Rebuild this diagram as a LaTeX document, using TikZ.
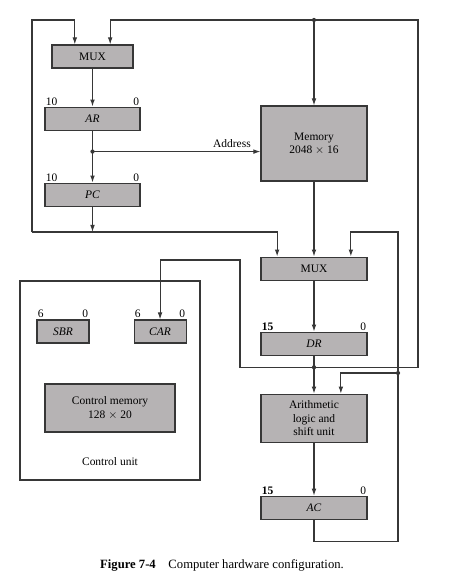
\documentclass[tikz,border=0pt]{standalone}
\usepackage{fontspec}
\setmainfont{Liberation Serif}
\usetikzlibrary{positioning, arrows.meta}
\definecolor{boxgray}{RGB}{182,179,180}
\definecolor{linegray}{RGB}{55,55,55}

\begin{document}
\begin{tikzpicture}[
    x=0.03cm, y=-0.03cm,
    node distance=1.14cm,
    box/.style={rectangle, draw=linegray, fill=boxgray, line width=0.9pt, minimum height=0.69cm, align=center, font=\fontsize{9.8}{11.5}\selectfont, inner sep=1pt},
    reg/.style={box, font=\fontsize{9.8}{11.5}\selectfont\itshape},
    bit/.style={font=\fontsize{9.8}{11.5}\selectfont, inner sep=1pt},
    arrow/.style={-{Latex[length=6pt,width=4pt]}, line width=0.9pt, draw=linegray},
    wire/.style={line width=0.9pt, draw=linegray}
]
\useasboundingbox (0,0) rectangle (457,585);

% Nodes
\node[box, minimum width=2.43cm] (muxa) at (92.5,56.5) {MUX};
\node[reg, minimum width=2.85cm, below=1.14cm of muxa] (ar) {AR};
\node[reg, minimum width=2.85cm, below=1.56cm of ar] (pc) {PC};
\node[box, minimum width=3.18cm, minimum height=2.25cm] (mem) at (314,143.5) {Memory\\2048 $\times$ 16};
\node[box, minimum width=3.18cm, below=2.25cm of mem] (muxb) {MUX};
\node[reg, minimum width=3.18cm, below=1.53cm of muxb] (dr) {DR};
\node[box, minimum width=3.18cm, minimum height=1.44cm, below=1.14cm of dr] (alu) {Arithmetic\\logic and\\shift unit};
\node[reg, minimum width=3.18cm, below=1.59cm of alu] (ac) {AC};

\node[draw=linegray, line width=0.9pt, minimum width=5.4cm, minimum height=5.97cm] (cu) at (110,380.5) {};
\node[above=0.33cm of cu.south, font=\fontsize{9.8}{11.5}\selectfont] (culabel) {Control unit};
\node[reg, minimum width=1.56cm] (sbr) at (63,331.5) {SBR};
\node[reg, minimum width=1.56cm, right=1.32cm of sbr] (car) {CAR};
\node[box, minimum width=3.9cm, minimum height=1.44cm] (cmem) at (110,408) {Control memory\\128 $\times$ 20};

% Bit numbers
\node[bit, anchor=south west] (arhi) at (ar.north west) {10};
\node[bit, anchor=south east] (arlo) at (ar.north east) {0};
\node[bit, anchor=south west] (pchi) at (pc.north west) {10};
\node[bit, anchor=south east] (pclo) at (pc.north east) {0};
\node[bit, anchor=south west, font=\fontsize{9.8}{11.5}\selectfont\bfseries] (drhi) at (dr.north west) {15};
\node[bit, anchor=south east] (drlo) at (dr.north east) {0};
\node[bit, anchor=south west, font=\fontsize{9.8}{11.5}\selectfont\bfseries] (achi) at (ac.north west) {15};
\node[bit, anchor=south east] (aclo) at (ac.north east) {0};
\node[bit, anchor=south west] (sbrhi) at (sbr.north west) {6};
\node[bit, anchor=south east] (sbrlo) at (sbr.north east) {0};
\node[bit, anchor=south west] (carhi) at (car.north west) {6};
\node[bit, anchor=south east] (carlo) at (car.north east) {0};

% Caption
\node[font=\fontsize{10.8}{13}\selectfont] (caption) at (222,565) {\textbf{Figure 7-4}\quad Computer hardware configuration.};

% Bend points
\coordinate (topy) at (0,20);
\coordinate (busl) at (32,232);
\coordinate (rightx) at (418,0);
\coordinate (loopx) at (398,0);
\coordinate (carbend) at (240,260);
\coordinate (acdot) at (398,373);
\coordinate[below=0.63cm of ar.south] (ardot);
\coordinate[below=0.35cm of dr.south] (drdot);
\coordinate[below=0.66cm of ac.south] (acbot);

% Arrows
\draw[arrow] (muxa) -- (ar);
\draw[arrow] (ar) -- (pc);
\draw[arrow] (ardot) -- node[pos=0.83, above, font=\fontsize{9.8}{11.5}\selectfont] {Address} (ardot -| mem.west);
\draw[arrow] (pc) -- (pc |- busl);
\draw[arrow] (busl) -| ([xshift=0.5cm]muxb.north west);
\draw[arrow] (busl) -- (busl |- topy) -| ([xshift=0.7cm]muxa.north west);
\draw[arrow] (drdot) -| (rightx |- topy) -| ([xshift=-0.7cm]muxa.north east);
\draw[arrow] (mem.north |- topy) -- (mem);
\draw[arrow] (mem) -- (muxb);
\draw[arrow] (muxb) -- (dr);
\draw[arrow] (dr) -- (alu);
\draw[arrow] (alu) -- (ac);
\draw[arrow] (drdot) -| (carbend) -| (car);
\draw[arrow] (ac) -- (acbot) -| (loopx |- busl) -| ([xshift=-0.5cm]muxb.north east);
\draw[arrow] (acdot) -| ([xshift=-0.8cm]alu.north east);

% Junction dots
\fill[linegray] (mem.north |- topy) circle (1.8pt);
\fill[linegray] (ardot) circle (1.8pt);
\fill[linegray] (drdot) circle (1.8pt);
\fill[linegray] (acdot) circle (1.8pt);

\end{tikzpicture}
\end{document}
